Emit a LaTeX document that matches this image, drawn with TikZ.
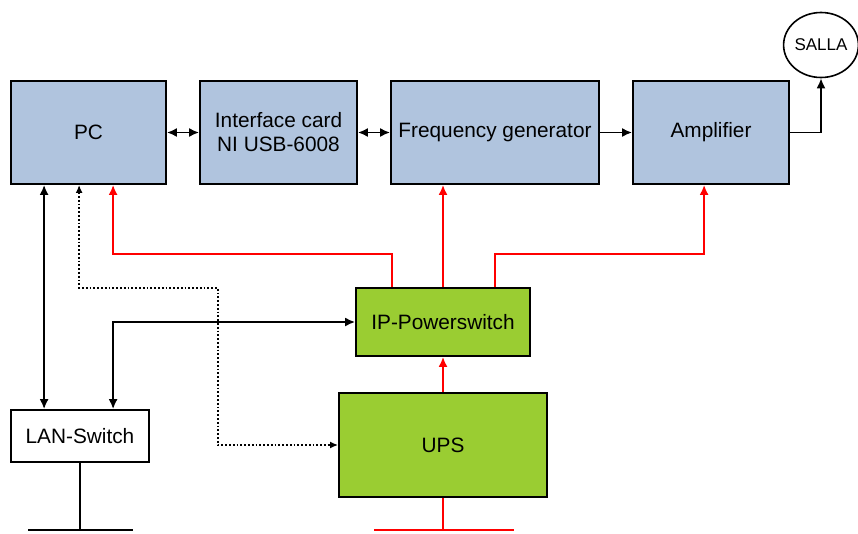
\documentclass[tikz,border=0pt]{standalone}
\usepackage{fontspec}
\setmainfont{Liberation Sans}
\usetikzlibrary{arrows.meta,shapes.geometric}
\definecolor{cardblue}{RGB}{176,196,222}
\definecolor{powergreen}{RGB}{154,205,50}
\tikzset{
    unit/.style={draw,line width=1.8pt,inner sep=0pt,align=center,
        minimum width=#1,font=\fontsize{20.8}{24}\selectfont},
    blueunit/.style={unit=#1,fill=cardblue,minimum height=103pt},
    greenunit/.style={unit=#1,fill=powergreen},
    wire/.style={line width=1.8pt},
    data/.style={wire,{Latex[length=10pt,width=9pt]}-{Latex[length=10pt,width=9pt]}},
    feed/.style={wire,-{Latex[length=10pt,width=9pt]}},
    pwr/.style={wire,red,-{Latex[length=10pt,width=9pt]}},
}
\begin{document}
\begin{tikzpicture}[x=1pt,y=-1pt]
    \useasboundingbox (0,0) rectangle (858,533);
    \node[blueunit=155pt] (pc) at (88.5,132.5) {PC};
    \node[blueunit=157pt] (card) at (278.5,132.5) {Interface card\\NI USB-6008};
    \node[blueunit=208pt] (gen) at (495,132.5) {Frequency generator};
    \node[blueunit=156pt] (amp) at (711,132.5) {Amplifier};
    \node[draw,ellipse,line width=1.6pt,inner sep=0pt,minimum width=74pt,
        minimum height=65pt,font=\fontsize{17}{20}\selectfont] (salla) at (821,45) {SALLA};
    \node[greenunit=174pt,minimum height=68pt] (ipsw) at (443,322) {IP-Powerswitch};
    \node[greenunit=208pt,minimum height=104pt] (ups) at (443,445) {UPS};
    \node[unit=138pt,minimum height=52pt] (lan) at (80,436) {LAN-Switch};

    \coordinate (bus) at (0,254);
    \coordinate (pcred) at ([xshift=103pt]pc.south west);
    \coordinate (ampred) at ([xshift=72pt]amp.south west);
    \coordinate (dotbend) at (218,288);
    \coordinate (lanfoot) at (80,530);
    \coordinate (upsfoot) at (443,530);

    \draw[data] (pc) -- (card);
    \draw[data] (card) -- (gen);
    \draw[feed] (gen) -- (amp);
    \draw[feed] (amp.east) -| (salla.south);

    \draw[data] ([xshift=34pt]pc.south west) -- ([xshift=34pt]lan.north west);
    \draw[wire,dotted,{Latex[length=8pt,width=7pt]}-{Latex[length=8pt,width=7pt]}]
        ([xshift=69pt]pc.south west) |- (dotbend) |- (ups.west);
    \draw[data] (ipsw.west) -| ([xshift=103pt]lan.north west);

    \draw[pwr] ([xshift=-51pt]ipsw.north) |- (bus -| pcred) -- (pcred);
    \draw[pwr] (ipsw.north) -- (ipsw.north |- gen.south);
    \draw[pwr] ([xshift=52pt]ipsw.north) |- (bus -| ampred) -- (ampred);
    \draw[pwr] (ups) -- (ipsw);

    \draw[wire] (lan.south) -- (lanfoot);
    \draw[wire] ([xshift=-52pt]lanfoot) -- ([xshift=53pt]lanfoot);
    \draw[wire,red] (ups.south) -- (upsfoot);
    \draw[wire,red] ([xshift=-69pt]upsfoot) -- ([xshift=71pt]upsfoot);
\end{tikzpicture}
\end{document}
